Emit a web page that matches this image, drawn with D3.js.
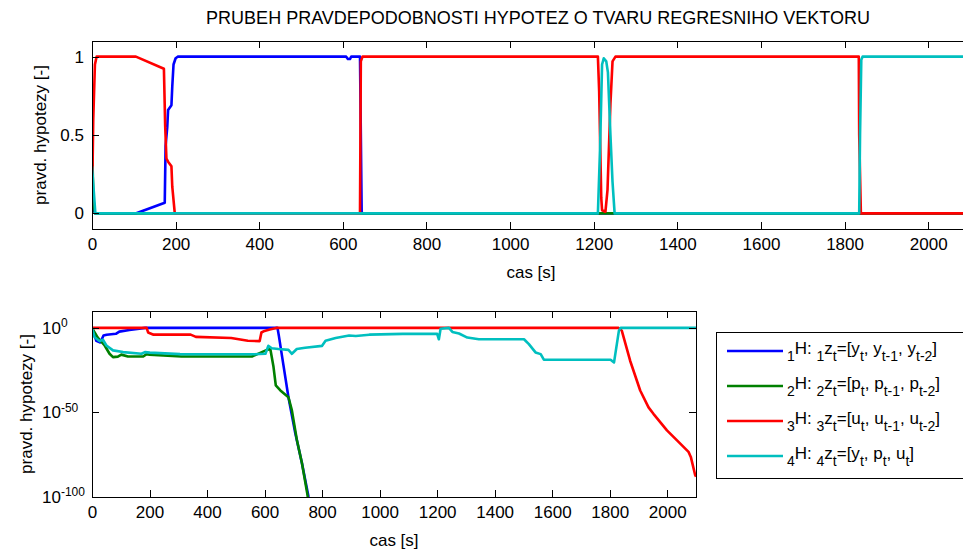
<!DOCTYPE html>
<html>
<head>
<meta charset="utf-8">
<script src="https://cdn.jsdelivr.net/npm/d3@7"></script>
<style>
  html, body { margin: 0; padding: 0; background: #fff; }
  svg { display: block; font-family: "Liberation Sans", Arial, sans-serif; }
  .axis path, .axis line { stroke: #000; shape-rendering: crispEdges; }
  .axis text { font-size: 17px; fill: #000; font-family: "Liberation Sans", Arial, sans-serif; }
</style>
</head>
<body>
<script>
// top plot: probability of each hypothesis, [time s, p]
const topBlue = [[0,0.2],[4,0.02],[8,0],[106,0],[174,0.068],[176,0.43],[180,0.55],[182,0.66],[190,0.69],[192,0.81],[195,0.95],[200,0.99],[205,1],[608,1],[612,0.985],[617,0.985],[620,1],[641,1],[645,0.01],[647,0],[2100,0]];
const topGreen = [[0,0.5],[3,0.1],[7,0],[2100,0]];
const topRed = [[0,0.05],[3,0.6],[7,0.95],[11,1],[105,1],[172,0.923],[175,0.56],[178,0.35],[182,0.33],[190,0.3],[192,0.17],[198,0],[641,0],[643,0.97],[647,1],[1210,1],[1213,0.78],[1218,0.1],[1220,0.02],[1228,0.01],[1233,0.15],[1240,0.7],[1245,0.97],[1252,1],[1834,1],[1835,0.5],[1839,0],[2100,0]];
const topCyan = [[0,0.3],[4,0.15],[8,0],[1210,0],[1215,0.4],[1220,0.95],[1224,0.99],[1230,0.97],[1234,0.9],[1240,0.5],[1245,0.2],[1250,0],[1835,0],[1837,0.5],[1840,0.98],[1843,1],[2100,1]];

// bottom plot: same probabilities, [time s, log10 p]
const logBlue = [[0,0],[15,-7.6],[29,-8.6],[40,-4.5],[51,-4],[83,-3.5],[95,-2.2],[130,-1.2],[185,0],[645,0],[650,-5],[665,-21.4],[683,-41],[707,-62.5],[730,-80],[753,-100],[760,-105]];
const logGreen = [[0,0],[20,-5.7],[44,-10.4],[61,-15.3],[73,-17.3],[90,-17],[102,-15.8],[125,-16.9],[178,-16.9],[190,-15.5],[200,-15.8],[311,-16.9],[556,-16.9],[608,-13],[620,-12.5],[631,-23],[639,-34],[655,-37],[683,-41],[695,-48.8],[712,-66],[730,-80],[748,-97.5],[755,-105]];
const logRed = [[0,0],[190,0],[195,-2.7],[214,-4],[343,-4],[361,-5.3],[484,-6],[542,-7.6],[583,-7.8],[589,-2.7],[600,-1.8],[618,-1],[640,0],[1831,0],[1842,-1.6],[1871,-19.4],[1906,-37],[1935,-47],[1952,-50.8],[1999,-60.6],[2034,-66.5],[2074,-73.3],[2082,-76.3],[2097,-87],[2100,-88]];
const logCyan = [[0,0],[9,-5.5],[26,-7.8],[38,-7],[50,-10.4],[73,-13.3],[108,-14.3],[172,-15.3],[184,-14.3],[201,-14.6],[306,-15.5],[562,-15.6],[603,-15.3],[613,-10.6],[625,-12],[648,-12.5],[683,-13],[695,-15.3],[712,-12.5],[741,-11.7],[800,-10.6],[812,-7.6],[847,-6],[894,-4.5],[917,-4.8],[964,-4],[1081,-3.5],[1200,-3.5],[1206,-6.7],[1212,-0.5],[1241,0],[1253,-2.4],[1276,-3.3],[1305,-5.7],[1345,-6.7],[1502,-6.7],[1519,-9.6],[1542,-14.5],[1560,-15.5],[1571,-18.8],[1803,-18.8],[1815,-20.4],[1832,-1.6],[1838,0],[2100,0]];

const seriesColors = ["#0000ff", "#008000", "#ff0000", "#00bfbf"];
const xTicks = [0, 200, 400, 600, 800, 1000, 1200, 1400, 1600, 1800, 2000];
const topYTicks = [0, 0.5, 1];
const logYTicks = [0, -50, -100];

// legend labels: [text, isSubscript]
const legendLabels = [
  [["1",1],["H: ",0],["1",1],["z",0],["t",1],["=[y",0],["t",1],[", y",0],["t-1",1],[", y",0],["t-2",1],["]",0]],
  [["2",1],["H: ",0],["2",1],["z",0],["t",1],["=[p",0],["t",1],[", p",0],["t-1",1],[", p",0],["t-2",1],["]",0]],
  [["3",1],["H: ",0],["3",1],["z",0],["t",1],["=[u",0],["t",1],[", u",0],["t-1",1],[", u",0],["t-2",1],["]",0]],
  [["4",1],["H: ",0],["4",1],["z",0],["t",1],["=[y",0],["t",1],[", p",0],["t",1],[", u",0],["t",1],["]",0]],
];

const width = 963, height = 549;
const svg = d3.select("body").append("svg").attr("width", width).attr("height", height);

svg.append("text").attr("x", 538).attr("y", 24).attr("text-anchor", "middle")
  .attr("font-size", 18).text("PRUBEH PRAVDEPODOBNOSTI HYPOTEZ O TVARU REGRESNIHO VEKTORU");

function frame(g, x, y, left, top, right, bottom, yTicks, yFormat) {
  const tick = 7;
  g.append("g").attr("class", "axis").attr("transform", `translate(0,${bottom})`)
    .call(d3.axisBottom(x).tickValues(xTicks).tickSizeInner(-tick).tickSizeOuter(0).tickPadding(9).tickFormat(d3.format("d")));
  g.append("g").attr("class", "axis").attr("transform", `translate(0,${top})`)
    .call(d3.axisTop(x).tickValues(xTicks).tickSizeInner(-tick).tickSizeOuter(0).tickFormat(() => ""));
  const ly = g.append("g").attr("class", "axis").attr("transform", `translate(${left},0)`)
    .call(d3.axisLeft(y).tickValues(yTicks).tickSizeInner(-tick).tickSizeOuter(0).tickPadding(8).tickFormat(yFormat));
  g.append("g").attr("class", "axis").attr("transform", `translate(${right},0)`)
    .call(d3.axisRight(y).tickValues(yTicks).tickSizeInner(-tick).tickSizeOuter(0).tickFormat(() => ""));
  return ly;
}

function drawLines(g, data, x, y, clipId, left, top, right, bottom) {
  g.append("clipPath").attr("id", clipId).append("rect")
    .attr("x", left).attr("y", top).attr("width", right - left).attr("height", bottom - top);
  const plot = g.append("g").attr("clip-path", `url(#${clipId})`);
  data.forEach((d, i) => {
    plot.append("path").datum(d)
      .attr("d", d3.line().x(p => x(p[0])).y(p => y(p[1])))
      .attr("fill", "none").attr("stroke", seriesColors[i]).attr("stroke-width", 2.6)
      .attr("stroke-linejoin", "round");
  });
}

// ---- top panel
const t = { left: 92, right: 970, top: 41, bottom: 229 };
const xTop = d3.scaleLinear().domain([0, 2100]).range([t.left, t.right]);
const yTop = d3.scaleLinear().domain([-0.1, 1.1]).range([t.bottom, t.top]);
const gTop = svg.append("g");
drawLines(gTop, [topBlue, topGreen, topRed, topCyan], xTop, yTop, "clipTop", t.left, t.top, t.right, t.bottom);
frame(gTop, xTop, yTop, t.left, t.top, t.right, t.bottom, topYTicks, d3.format(""));
gTop.append("text").attr("x", 531).attr("y", 278).attr("text-anchor", "middle").attr("font-size", 17).text("cas [s]");
gTop.append("text").attr("transform", `translate(46,${(t.top + t.bottom) / 2}) rotate(-90)`)
  .attr("text-anchor", "middle").attr("font-size", 17).text("pravd. hypotezy [-]");

// ---- bottom panel
const b = { left: 92, right: 696, top: 311, bottom: 497 };
const xBot = d3.scaleLinear().domain([0, 2100]).range([b.left, b.right]);
const yBot = d3.scaleLog().domain([1e-100, 1e10]).range([b.bottom, b.top]);
const gBot = svg.append("g");
const toP = s => s.map(p => [p[0], Math.pow(10, p[1])]);
drawLines(gBot, [toP(logBlue), toP(logGreen), toP(logRed), toP(logCyan)], xBot, yBot, "clipBot", b.left, b.top, b.right, b.bottom);
const lyBot = frame(gBot, xBot, yBot, b.left, b.top, b.right, b.bottom, logYTicks.map(e => Math.pow(10, e)), () => "");
// MATLAB keeps the "10" base left-aligned, exponent trailing
lyBot.selectAll(".tick text").each(function (d) {
  const e = Math.round(Math.log10(d));
  const txt = d3.select(this).attr("text-anchor", "start").attr("x", -50).attr("dy", "0.32em");
  txt.append("tspan").text("10");
  txt.append("tspan").attr("dy", "-0.55em").attr("font-size", 12).text(String(e));
});
gBot.append("text").attr("x", 394).attr("y", 546).attr("text-anchor", "middle").attr("font-size", 17).text("cas [s]");
gBot.append("text").attr("transform", `translate(32,${(b.top + b.bottom) / 2}) rotate(-90)`)
  .attr("text-anchor", "middle").attr("font-size", 17).text("pravd. hypotezy [-]");

// ---- legend
const lg = svg.append("g");
lg.append("rect").attr("x", 716.5).attr("y", 332.5).attr("width", 260).attr("height", 146)
  .attr("fill", "#fff").attr("stroke", "#000");
const rowY = d3.scalePoint().domain(d3.range(legendLabels.length)).range([351, 456]);
legendLabels.forEach((parts, i) => {
  const yy = rowY(i);
  lg.append("line").attr("x1", 727).attr("x2", 783).attr("y1", yy).attr("y2", yy)
    .attr("stroke", seriesColors[i]).attr("stroke-width", 2.6);
  const txt = lg.append("text").attr("x", 787).attr("y", yy + 3).attr("font-size", 17);
  let sub = false;
  parts.forEach(([s, isSub]) => {
    const ts = txt.append("tspan").text(s);
    if (isSub && !sub) ts.attr("dy", 7).attr("font-size", 14);
    else if (isSub) ts.attr("font-size", 14);
    else if (sub) ts.attr("dy", -7);
    sub = !!isSub;
  });
});
</script>
</body>
</html>
